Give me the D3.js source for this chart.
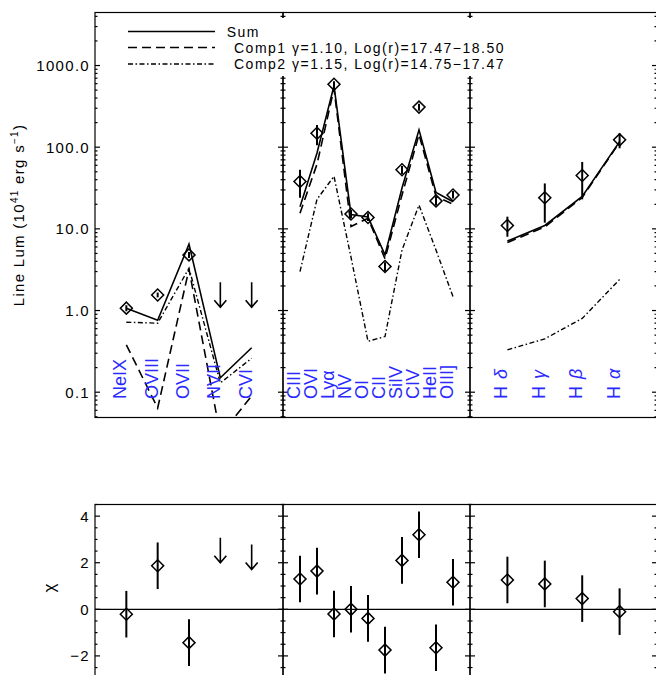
<!DOCTYPE html>
<html>
<head>
<meta charset="utf-8">
<script src="https://d3js.org/d3.v7.min.js"></script>
<style>
  body { margin: 0; background: #fff; }
  svg { display: block; font-family: "Liberation Sans", Arial, Helvetica, sans-serif; }
</style>
</head>
<body>
<svg width="656" height="675"></svg>
<script>
// ---- data ----
// x-ray lines
var xrayLines = ["NeIX", "OVIII", "OVII", "NVII", "CVI"];
var xrayObs = [1.07, 1.55, 4.8, 1.1, 1.1];
var xrayLo = [0.98, 1.45, 4.4, null, null];
var xrayHi = [1.16, 1.66, 5.2, null, null];
var xrayUpper = [false, false, false, true, true];
var xraySum = [1.07, 0.76, 6.5, 0.15, 0.35];
var xrayComp1 = [0.38, 0.064, 3.2, 0.03, 0.09];
var xrayComp2 = [0.72, 0.70, 3.3, 0.13, 0.26];
var xrayChi = [-0.21, 1.87, -1.43, 2.0, 1.71];
var xrayChiErr = [1, 1, 1, null, null];

// UV lines
var uvLines = ["CIII", "OVI", "Lyα", "NV", "OI", "CII", "SiIV", "CIV", "HeII", "OIII]"];
var uvObs = [38, 148, 590, 15.2, 13.8, 3.46, 53, 310, 22, 26];
var uvLo = [24, 106, 540, 13.5, 12.5, 3.0, 47, 280, 19.5, 23.5];
var uvHi = [53, 187, 640, 17, 15.5, 3.9, 59, 340, 24.5, 29];
var uvUpper = [false, false, false, false, false, false, false, false, false, false];
var uvSum = [18.6, 85, 565, 15, 14, 4.8, 31.6, 163, 28, 21.5];
var uvComp1 = [15.5, 62, 520, 10.7, 13.5, 4.3, 26, 143, 25, 20];
var uvComp2 = [3.0, 23, 44, 4.5, 0.42, 0.48, 5.5, 19.5, 5.5, 1.48];
var uvChi = [1.30, 1.64, -0.2, 0.0, -0.39, -1.75, 2.10, 3.2, -1.65, 1.16];
var uvChiErr = [1, 1, 1, 1, 1, 1, 1, 1, 1, 1];

// Balmer lines
var optLines = ["H δ", "H γ", "H β", "H α"];
var optObs = [11, 24, 45, 123];
var optLo = [8.0, 11.9, 23, 97];
var optHi = [14.1, 36, 66, 148];
var optUpper = [false, false, false, false];
var optSum = [7.1, 11, 25, 117];
var optComp1 = [6.8, 10.55, 24.2, 114.6];
var optComp2 = [0.33, 0.45, 0.8, 2.4];
var optChi = [1.26, 1.09, 0.46, -0.1];
var optChiErr = [1, 1, 1, 1];

var lumTicks = [0.1, 1, 10, 100, 1000];
var lumTickLabels = ["0.1", "1.0", "10.0", "100.0", "1000.0"];
var chiTicks = [-2, 0, 2, 4];
var chiTickLabels = ["\u22122", "0", "2", "4"];

var legendLabels = ["Sum", "Comp1 γ=1.10, Log(r)=17.47\u221218.50", "Comp2 γ=1.15, Log(r)=14.75\u221217.47"];

// ---- layout ----
var svg = d3.select("svg");
var topY0 = 12.5, topY1 = 417.5, botY0 = 504.5, botY1 = 679.2;
var dash1 = "9,5", dash2 = "5,2.5,1.5,2.5";

var yTop = d3.scaleLog().domain([0.049, 4460]).range([topY1, topY0]);
var yBot = d3.scaleLinear().domain([-3, 4.5]).range([botY1, botY0]);

var groups = [
  {names: xrayLines, obs: xrayObs, lo: xrayLo, hi: xrayHi, upper: xrayUpper, sum: xraySum,
   c1: xrayComp1, c2: xrayComp2, chi: xrayChi, chiErr: xrayChiErr, x0: 95, x1: 283},
  {names: uvLines, obs: uvObs, lo: uvLo, hi: uvHi, upper: uvUpper, sum: uvSum,
   c1: uvComp1, c2: uvComp2, chi: uvChi, chiErr: uvChiErr, x0: 283, x1: 470},
  {names: optLines, obs: optObs, lo: optLo, hi: optHi, upper: optUpper, sum: optSum,
   c1: optComp1, c2: optComp2, chi: optChi, chiErr: optChiErr, x0: 470, x1: 657}
];

svg.append("rect").attr("width", 656).attr("height", 675).attr("fill", "#fff");

var defs = svg.append("defs");
defs.append("clipPath").attr("id", "clipTop")
  .append("rect").attr("x", 95).attr("y", topY0).attr("width", 562).attr("height", topY1 - topY0);

// frames and ticks
function yTicks(g, scale, x0, x1, ticks, isMajor) {
  ticks.forEach(function(t) {
    var len = isMajor(t) ? 5 : 2.5;
    var y = scale(t);
    g.append("line").attr("x1", x0).attr("x2", x0 + len).attr("y1", y).attr("y2", y);
    g.append("line").attr("x1", x1).attr("x2", x1 - len).attr("y1", y).attr("y2", y);
  });
}

var frames = svg.append("g").attr("stroke", "#000").attr("stroke-width", 1.2).attr("fill", "none");
groups.forEach(function(p) {
  frames.append("rect").attr("x", p.x0).attr("y", topY0).attr("width", p.x1 - p.x0).attr("height", topY1 - topY0);
  frames.append("rect").attr("x", p.x0).attr("y", botY0).attr("width", p.x1 - p.x0).attr("height", botY1 - botY0);
  yTicks(frames, yTop, p.x0, p.x1, yTop.ticks(), function(t) {
    return Math.abs(Math.log10(t) - Math.round(Math.log10(t))) < 1e-6;
  });
  yTicks(frames, yBot, p.x0, p.x1, yBot.ticks(15), function(t) { return Math.abs(t % 2) < 1e-6; });
});

// zero line in residual panel
svg.append("line").attr("x1", 95).attr("x2", 657).attr("y1", yBot(0)).attr("y2", yBot(0))
  .attr("stroke", "#000").attr("stroke-width", 1.2);

// legend box erases the frame behind it
svg.append("rect").attr("x", 101).attr("y", 18).attr("width", 460).attr("height", 58).attr("fill", "#fff");

// axis labels
var tickText = svg.append("g").attr("font-size", 15).attr("letter-spacing", 1.3).attr("fill", "#000")
  .attr("text-anchor", "end");
lumTicks.forEach(function(t, i) {
  tickText.append("text").attr("x", 90).attr("y", yTop(t) + 5.5).text(lumTickLabels[i]);
});
chiTicks.forEach(function(t, i) {
  tickText.append("text").attr("x", 90).attr("y", yBot(t) + 5.5).text(chiTickLabels[i]);
});

var ylab = svg.append("text").attr("font-size", 15).attr("letter-spacing", 1.3)
  .attr("text-anchor", "middle").attr("transform", "translate(24," + ((topY0 + topY1) / 2) + ") rotate(-90)");
ylab.append("tspan").text("Line Lum (10");
ylab.append("tspan").attr("font-size", 10).attr("dy", -6).text("41");
ylab.append("tspan").attr("dy", 6).text(" erg s");
ylab.append("tspan").attr("font-size", 10).attr("dy", -6).text("\u22121");
ylab.append("tspan").attr("dy", 6).text(")");

svg.append("text").attr("font-size", 17).attr("text-anchor", "middle")
  .attr("transform", "translate(55,588) rotate(-90)").text("χ");

// model lines, markers and residuals
var diamond = d3.symbol().type(d3.symbolSquare).size(72);

groups.forEach(function(p) {
  var x = d3.scaleLinear().domain([0, p.names.length + 1]).range([p.x0, p.x1]);
  var line = d3.line().x(function(d, i) { return x(i + 1); }).y(function(d) { return yTop(d); });

  var models = svg.append("g").attr("clip-path", "url(#clipTop)").attr("fill", "none").attr("stroke", "#000");
  models.append("path").attr("d", line(p.sum)).attr("stroke-width", 1.6);
  models.append("path").attr("d", line(p.c1)).attr("stroke-width", 1.6).attr("stroke-dasharray", dash1);
  models.append("path").attr("d", line(p.c2)).attr("stroke-width", 1.4).attr("stroke-dasharray", dash2);

  var marks = svg.append("g").attr("fill", "none").attr("stroke", "#000");
  p.obs.forEach(function(v, i) {
    var cx = x(i + 1);
    if (p.upper[i]) {
      var yy = yTop(v);
      marks.append("path").attr("stroke-width", 1.6)
        .attr("d", "M" + cx + "," + (yy - 25) + "L" + cx + "," + yy +
          "M" + (cx - 6) + "," + (yy - 7) + "L" + cx + "," + yy + "L" + (cx + 6) + "," + (yy - 7));
    } else {
      marks.append("line").attr("stroke-width", 2)
        .attr("x1", cx).attr("x2", cx).attr("y1", yTop(p.lo[i])).attr("y2", yTop(p.hi[i]));
      marks.append("path").attr("d", diamond).attr("stroke-width", 1.5)
        .attr("transform", "translate(" + cx + "," + yTop(v) + ") rotate(45)");
    }
  });

  p.chi.forEach(function(v, i) {
    var cx = x(i + 1), yy = yBot(v);
    if (p.upper[i]) {
      marks.append("path").attr("stroke-width", 1.6)
        .attr("d", "M" + cx + "," + (yy - 25) + "L" + cx + "," + yy +
          "M" + (cx - 6) + "," + (yy - 7) + "L" + cx + "," + yy + "L" + (cx + 6) + "," + (yy - 7));
    } else {
      marks.append("line").attr("stroke-width", 2)
        .attr("x1", cx).attr("x2", cx).attr("y1", yBot(v - p.chiErr[i])).attr("y2", yBot(v + p.chiErr[i]));
      marks.append("path").attr("d", diamond).attr("stroke-width", 1.5)
        .attr("transform", "translate(" + cx + "," + yy + ") rotate(45)");
    }
  });

  // line names
  var names = svg.append("g").attr("fill", "#2a2aff").attr("font-size", 18);
  p.names.forEach(function(n, i) {
    var cx = x(i + 1);
    var t = names.append("text").attr("transform", "translate(" + cx + ",399) rotate(-90)");
    var parts = n.split(" ");
    t.append("tspan").text(parts[0]);
    if (parts.length > 1) t.append("tspan").attr("dx", 7).attr("font-style", "italic").text(parts[1]);
  });
});

// legend
var legY = [31.5, 47.5, 64];
var legX = [226.7, 234, 234];
var legDash = [null, dash1, dash2];
var leg = svg.append("g");
legendLabels.forEach(function(s, i) {
  leg.append("line").attr("x1", 128).attr("x2", 215).attr("y1", legY[i]).attr("y2", legY[i])
    .attr("stroke", "#000").attr("stroke-width", 1.4).attr("stroke-dasharray", legDash[i]);
  leg.append("text").attr("x", legX[i]).attr("y", legY[i] + 5).attr("font-size", 14)
    .attr("letter-spacing", 1.5).text(s);
});
</script>
</body>
</html>
